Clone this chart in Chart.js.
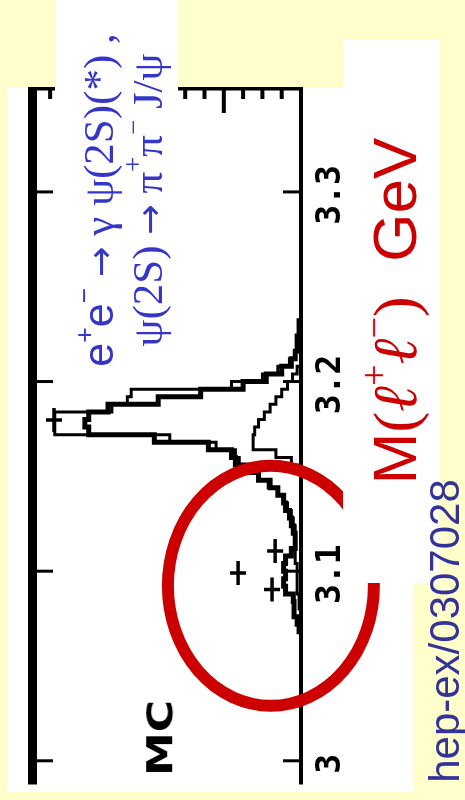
<!DOCTYPE html>
<html>
<head>
<meta charset="utf-8">
<script src="https://cdn.jsdelivr.net/npm/chart.js@4.4.1/dist/chart.umd.min.js"></script>
<style>
  html, body { margin: 0; padding: 0; }
  body { width: 465px; height: 800px; position: relative; overflow: hidden; background: #ffffcc; }
  canvas { position: absolute; left: 0; top: 0; }
  .box { position: absolute; background: #ffffff; }
  .rot { position: absolute; transform: rotate(-90deg); transform-origin: 50% 50%; text-align: center; white-space: nowrap; }
  sup { font-size: 62%; line-height: 0; vertical-align: 0.75em; }
  .sans { font-family: 'Liberation Sans', Arial, sans-serif; }
  .ser { font-family: 'Liberation Serif', 'Times New Roman', serif; }
  .arr { font-family: 'DejaVu Sans', sans-serif; font-size: 85%; }
  #title { left: -88px; top: 153px; width: 420px; height: 94px; font-family: 'Liberation Serif', serif; font-size: 43px; line-height: 47px; color: #3535c8; }
  #xlabel { left: 175px; top: 280px; width: 440px; height: 62px; font-family: 'Liberation Sans', sans-serif; font-size: 62px; line-height: 62px; color: #cc0000; }
  #hep { left: 275px; top: 610px; width: 340px; height: 42px; font-family: 'Liberation Sans', sans-serif; font-size: 42px; line-height: 42px; color: #333399; }
  #mc { left: 110px; top: 716px; width: 100px; height: 44px; font-family: 'DejaVu Sans', sans-serif; font-weight: bold; font-size: 44px; line-height: 44px; color: #000; transform: rotate(-90deg) scaleY(0.8); }
</style>
</head>
<body>
<canvas id="chart" width="465" height="800"></canvas>
<div class="box" style="left:55px; top:0; width:123px; height:118px;"></div>
<div class="box" style="left:343px; top:39px; width:97px; height:544px;"></div>
<div id="title" class="rot"><span class="sans">e<sup>+</sup>e<sup>&minus;</sup></span> <span class="arr">&rarr;</span> &gamma; &psi;(2S)(*) ,<br>&psi;(2S) <span class="arr">&rarr;</span> &pi;<sup>+</sup>&pi;<sup>&minus;</sup> J/&psi;</div>
<div id="xlabel" class="rot">M<span class="ser">(<i>&#8467;</i><sup>+</sup><i>&#8467;</i><sup>&minus;</sup>)</span>&nbsp; GeV</div>
<div id="hep" class="rot">hep-ex/0307028</div>
<div id="mc" class="rot">MC</div>
<script>
(function() {
  'use strict';

  // histogram binning in M(l+l-), GeV
  var BIN_START = 3.028;
  var BIN_WIDTH = 0.004;

  // thick histogram
  var DATA_COUNTS = [
    0, 0, 0, 0, 0, 0, 0, 0, 0, 0,
    0.5, 1, 1.8, 1.8, 2, 4, 4.5, 4, 4.5, 4,
    2.5, 1.5, 1.5, 2, 2.5, 3, 4, 4.5, 6, 8,
    11, 14, 17, 18, 24, 38, 55, 56, 55, 50,
    37, 26, 15, 9, 5, 2.5, 1.5, 1, 1, 0.5,
    0.5, 0, 0
  ];

  // thin outline histogram
  var MC_COUNTS = [
    0, 0, 0, 0, 0, 0, 0, 0, 0, 0,
    0, 0, 0, 0.5, 0.5, 1, 1, 1, 1, 1.5,
    1.5, 1.5, 1.5, 1.5, 2, 2.5, 3.5, 4.5, 6, 8.5,
    11, 14, 16, 17, 22, 34, 63.8, 63.8, 63.8, 49,
    45, 44, 18, 10, 6, 3, 1.5, 1, 0.5, 0,
    0, 0, 0
  ];

  // thin second component
  var BKG_COUNTS = [
    0, 0, 0, 0, 0, 0, 0, 0, 0, 0,
    0, 0, 0, 0, 0, 0, 0, 0, 0, 0,
    0, 0, 0, 0, 0, 0, 0, 0, 0, 0,
    0, 0, 2.5, 6.5, 12.4, 12.4, 12, 11, 9.5, 8,
    6.5, 5, 3.5, 2.2, 1, 0, 0, 0, 0, 0,
    0, 0, 0
  ];

  // single entries drawn as crosses
  var PT_MASS  = [3.1106, 3.0991, 3.0903, 3.1797];
  var PT_COUNT = [6.7, 16.3, 7.5, 64];

  var MASS_TICKS  = [3.0, 3.1, 3.2, 3.3];
  var MASS_LABELS = ['3', '3.1', '3.2', '3.3'];
  var COUNT_TICKS = [5, 10, 15, 20, 25, 30, 35, 40, 45, 50, 55, 60, 65];
  var COUNT_MAJOR = [20, 40, 60];

  // circled region (data coords)
  var RING_MASS = 3.0923;
  var RING_COUNT = 7.8;

  var BLACK = '#000000';
  var RED = '#cc0000';
  var YELLOW = '#ffffcc';

  function stepPoints(counts) {
    var first = 0, last = counts.length - 1;
    while (first < last && counts[first] === 0) first++;
    while (last > first && counts[last] === 0) last--;
    var pts = [{ x: 0, y: BIN_START + first * BIN_WIDTH }];
    for (var i = first; i <= last; i++) {
      pts.push({ x: counts[i], y: BIN_START + (i + 1) * BIN_WIDTH });
    }
    pts.push({ x: 0, y: BIN_START + (last + 1) * BIN_WIDTH });
    return pts;
  }

  var crossPts = PT_MASS.map(function(m, i) { return { x: PT_COUNT[i], y: m }; });

  var histStyle = {
    showLine: true,
    stepped: 'before',
    pointRadius: 0,
    borderColor: BLACK,
    borderJoinStyle: 'miter',
    borderCapStyle: 'butt',
    fill: false
  };

  var framePlugin = {
    id: 'frame',
    beforeDraw: function(chart) {
      var ctx = chart.ctx;
      ctx.save();
      ctx.fillStyle = YELLOW;
      ctx.fillRect(0, 0, chart.width, chart.height);
      ctx.fillStyle = '#ffffff';
      ctx.fillRect(7, 87, 406, 705);
      ctx.restore();
    },
    afterDatasetsDraw: function(chart) {
      var ctx = chart.ctx;
      var a = chart.chartArea;
      var xs = chart.scales.x, ys = chart.scales.y;
      ctx.save();
      ctx.fillStyle = BLACK;
      // frame
      ctx.fillRect(a.left - 4, a.top - 1, 9, a.bottom - a.top + 1);
      ctx.fillRect(a.left - 4, a.top - 1, a.right - a.left + 6, 3.5);
      ctx.fillRect(a.right - 2, a.top - 1, 4, a.bottom - a.top + 1);
      // count ticks on the top edge
      COUNT_TICKS.forEach(function(v) {
        var px = xs.getPixelForValue(v);
        var len = COUNT_MAJOR.indexOf(v) >= 0 ? 25 : 11;
        ctx.fillRect(px - 2, a.top, 4, len);
      });
      // mass ticks on both vertical edges
      MASS_TICKS.forEach(function(v) {
        var py = ys.getPixelForValue(v);
        ctx.fillRect(a.left + 4, py - 1.5, 17, 3);
        ctx.fillRect(a.right - 18, py - 1.5, 17, 3);
      });
      // mass tick labels, rotated
      ctx.font = 'bold 33px "DejaVu Sans Mono", monospace';
      ctx.textAlign = 'center';
      ctx.textBaseline = 'alphabetic';
      MASS_TICKS.forEach(function(v, i) {
        var py = ys.getPixelForValue(v);
        ctx.save();
        ctx.translate(a.right + 39, py + 3);
        ctx.rotate(-Math.PI / 2);
        ctx.fillText(MASS_LABELS[i], 0, 0);
        ctx.restore();
      });
      // red ring
      ctx.strokeStyle = RED;
      ctx.lineWidth = 12;
      ctx.beginPath();
      ctx.ellipse(xs.getPixelForValue(RING_COUNT), ys.getPixelForValue(RING_MASS), 103, 120, 0, 0, Math.PI * 2);
      ctx.stroke();
      ctx.restore();
    }
  };

  new Chart(document.getElementById('chart'), {
    type: 'scatter',
    data: {
      datasets: [
        Object.assign({ data: stepPoints(DATA_COUNTS), borderWidth: 5 }, histStyle),
        Object.assign({ data: stepPoints(MC_COUNTS), borderWidth: 3 }, histStyle),
        Object.assign({ data: stepPoints(BKG_COUNTS), borderWidth: 3 }, histStyle),
        {
          data: crossPts,
          pointStyle: 'line',
          pointRadius: 8,
          pointBorderWidth: 3.5,
          pointBorderColor: BLACK,
          pointRotation: 0
        },
        {
          data: crossPts,
          pointStyle: 'line',
          pointRadius: 12,
          pointBorderWidth: 3.5,
          pointBorderColor: BLACK,
          pointRotation: 90
        }
      ]
    },
    options: {
      responsive: false,
      animation: false,
      events: [],
      layout: { padding: { left: 32, right: 164, top: 88, bottom: 8 } },
      plugins: {
        legend: { display: false },
        tooltip: { enabled: false }
      },
      scales: {
        x: { type: 'linear', reverse: true, min: 0, max: 69.7, display: false },
        y: { type: 'linear', min: 2.9875, max: 3.3548, display: false }
      }
    },
    plugins: [framePlugin]
  });
})();
</script>
</body>
</html>
